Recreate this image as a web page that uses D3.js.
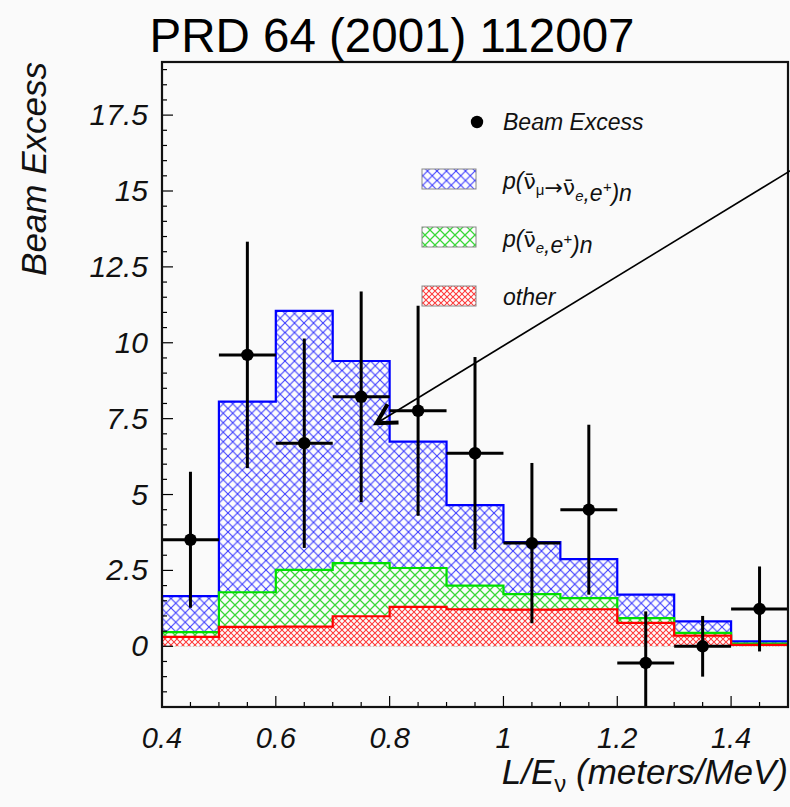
<!DOCTYPE html>
<html>
<head>
<meta charset="utf-8">
<script src="https://cdn.jsdelivr.net/npm/d3@7"></script>
<style>
  html, body { margin: 0; padding: 0; background: #fafafa; }
  svg { display: block; }
  text { font-family: "Liberation Sans", Arial, Helvetica, sans-serif; }
</style>
</head>
<body>
<svg id="chart" width="790" height="807"></svg>
<script>
// ---------------- data ----------------
const binEdges = [0.4, 0.5, 0.6, 0.7, 0.8, 0.9, 1.0, 1.1, 1.2, 1.3, 1.4, 1.5];
// stacked totals (oscillation + nu_e + other)
const oscStackTotal = [1.65, 8.06, 11.05, 9.40, 6.74, 4.65, 3.43, 2.87, 1.70, 0.82, 0.16];
// nu_e + other
const nueStackTotal = [0.47, 1.78, 2.52, 2.74, 2.58, 2.00, 1.72, 1.59, 0.93, 0.44, 0.09];
// other
const otherValues   = [0.31, 0.64, 0.65, 0.99, 1.30, 1.22, 1.21, 1.22, 0.77, 0.35, 0.05];

const pointX   = [0.45, 0.55, 0.65, 0.75, 0.85, 0.95, 1.05, 1.15, 1.25, 1.35, 1.45];
const pointY   = [3.51, 9.60, 6.69, 8.22, 7.76, 6.36, 3.40, 4.50, -0.55, 0.00, 1.23];
const pointErr = [2.24, 3.73, 3.45, 3.47, 3.46, 3.17, 2.64, 2.80, 1.70, 1.00, 1.40];

const xTicks = [0.4, 0.6, 0.8, 1.0, 1.2, 1.4];
const xTickLabels = ["0.4", "0.6", "0.8", "1", "1.2", "1.4"];
const yTicks = [0, 2.5, 5, 7.5, 10, 12.5, 15, 17.5];
const yTickLabels = ["0", "2.5", "5", "7.5", "10", "12.5", "15", "17.5"];

const titleText = "PRD 64 (2001) 112007";
const legendLabels = ["Beam Excess", "osc", "nue", "other"];
// arrow annotation in data units: from (x,y) to tip (x,y)
const arrowFrom = [1.505, 15.68];
const arrowTip  = [0.777, 7.35];

// ---------------- layout ----------------
const svg = d3.select("#chart");
const L = 162, R = 788, T = 62, B = 707;
const x = d3.scaleLinear().domain([0.4, 1.5]).range([L, R]);
const y = d3.scaleLinear().domain([-2, 19.25]).range([B, T]);

// patterns
const defs = svg.append("defs");
function hatch(id, size, color, sw) {
  const p = defs.append("pattern").attr("id", id).attr("patternUnits", "userSpaceOnUse")
    .attr("width", size).attr("height", size);
  p.append("rect").attr("width", size).attr("height", size).attr("fill", "#fdfdfd");
  p.append("path").attr("d", `M0,0L${size},${size}M0,${size}L${size},0`)
    .attr("stroke", color).attr("stroke-width", sw).attr("fill", "none");
}
hatch("hBlue", 9.5, "#3c3cff", 1.1);
hatch("hGreen", 10, "#3ad83a", 1.25);
hatch("hRed", 6, "#ff3a3a", 1.05);

defs.append("clipPath").attr("id", "frameClip").append("rect")
  .attr("x", L).attr("y", T).attr("width", R - L).attr("height", B - T);

const plot = svg.append("g").attr("clip-path", "url(#frameClip)");

function stepPts(vals) {
  const pts = [[x(binEdges[0]), y(0)]];
  vals.forEach((v, i) => {
    pts.push([x(binEdges[i]), y(v)]);
    pts.push([x(binEdges[i + 1]), y(v)]);
  });
  pts.push([x(binEdges[binEdges.length - 1]), y(0)]);
  return pts;
}
const line = d3.line();
function drawHist(vals, fillId, color) {
  const pts = stepPts(vals);
  plot.append("path").attr("d", line(pts) + "Z").attr("fill", `url(#${fillId})`).attr("stroke", "none");
  plot.append("path").attr("d", line(pts.slice(0, pts.length - 1))).attr("fill", "none")
    .attr("stroke", color).attr("stroke-width", 2.2);
}
drawHist(oscStackTotal, "hBlue", "#0000ff");
drawHist(nueStackTotal, "hGreen", "#00e000");
drawHist(otherValues, "hRed", "#ff0000");

// data points
const pts = plot.append("g");
pointX.forEach((px, i) => {
  pts.append("line").attr("x1", x(px - 0.05)).attr("x2", x(px + 0.05))
    .attr("y1", y(pointY[i])).attr("y2", y(pointY[i])).attr("stroke", "#000").attr("stroke-width", 3);
  pts.append("line").attr("x1", x(px)).attr("x2", x(px))
    .attr("y1", y(pointY[i] - pointErr[i])).attr("y2", y(pointY[i] + pointErr[i]))
    .attr("stroke", "#000").attr("stroke-width", 3);
  pts.append("circle").attr("cx", x(px)).attr("cy", y(pointY[i])).attr("r", 6.2).attr("fill", "#000");
});

// ticks (inside frame)
const tk = svg.append("g").attr("stroke", "#000").attr("stroke-width", 1.2);
d3.range(0, 23).map(i => 0.4 + i * 0.05).filter(v => v <= 1.5001).forEach(v => {
  const major = Math.abs(Math.round(v * 5) - v * 5) < 1e-6;
  tk.append("line").attr("x1", x(v)).attr("x2", x(v)).attr("y1", B).attr("y2", B - (major ? 11 : 5));
});
d3.range(-4, 39).map(i => i * 0.5).filter(v => v >= -2 && v <= 19.25).forEach(v => {
  const major = Math.abs(v / 2.5 - Math.round(v / 2.5)) < 1e-6;
  tk.append("line").attr("x1", L).attr("x2", L + (major ? 11 : 5)).attr("y1", y(v)).attr("y2", y(v));
});

// frame
svg.append("rect").attr("x", L).attr("y", T).attr("width", R - L).attr("height", B - T)
  .attr("fill", "none").attr("stroke", "#111").attr("stroke-width", 2.2);

// tick labels
svg.append("g").selectAll("text").data(xTicks).join("text")
  .attr("x", d => x(d)).attr("y", 748).attr("text-anchor", "middle")
  .attr("font-style", "italic").attr("font-size", 29).attr("fill", "#111")
  .text((d, i) => xTickLabels[i]);
svg.append("g").selectAll("text").data(yTicks).join("text")
  .attr("x", 148).attr("y", d => y(d) + 10).attr("text-anchor", "end")
  .attr("font-style", "italic").attr("font-size", 30).attr("fill", "#111")
  .text((d, i) => yTickLabels[i]);

// axis titles
const xt = svg.append("text").attr("x", 788).attr("y", 784).attr("text-anchor", "end")
  .attr("font-style", "italic").attr("font-size", 35).attr("fill", "#111");
xt.append("tspan").text("L/E");
xt.append("tspan").attr("font-size", 24).attr("dy", 8).attr("font-style", "normal").text("ν");
xt.append("tspan").attr("dy", -8).text(" (meters/MeV)");

svg.append("text").attr("transform", "translate(46,62) rotate(-90)").attr("text-anchor", "end")
  .attr("font-style", "italic").attr("font-size", 35).attr("fill", "#111").text("Beam Excess");

// title
svg.append("text").attr("x", 392).attr("y", 52).attr("text-anchor", "middle")
  .attr("font-size", 47.5).attr("fill", "#000").text(titleText);

// legend
const lg = svg.append("g");
const lx = 503;
lg.append("circle").attr("cx", 477).attr("cy", 122).attr("r", 6.2).attr("fill", "#000");
lg.append("text").attr("x", lx).attr("y", 130).attr("font-style", "italic").attr("font-size", 23)
  .attr("fill", "#111").text(legendLabels[0]);
const boxes = [["hBlue", 169], ["hGreen", 227], ["hRed", 286]];
boxes.forEach(([id, by]) => {
  lg.append("rect").attr("x", 422).attr("y", by).attr("width", 54).attr("height", 20)
    .attr("fill", `url(#${id})`).attr("stroke", "#888").attr("stroke-width", 1);
});
function nubar(t, sub, subItalic) {
  t.append("tspan").text("ν̄").attr("font-style", "normal").attr("font-family", "DejaVu Sans").attr("font-size", 22);
  t.append("tspan").attr("font-size", 15).attr("dy", 6).attr("font-style", subItalic ? "italic" : "normal").text(sub);
  t.append("tspan").attr("dy", -6).text("");
}
const t1 = lg.append("text").attr("x", lx).attr("y", 189).attr("font-style", "italic").attr("font-size", 23).attr("fill", "#111");
t1.append("tspan").text("p(");
nubar(t1, "μ", false);
t1.append("tspan").attr("font-style", "normal").attr("font-family", "DejaVu Sans").attr("font-size", 22).text("→");
nubar(t1, "e", true);
t1.append("tspan").text(",e");
t1.append("tspan").attr("font-size", 15).attr("dy", -9).text("+");
t1.append("tspan").attr("dy", 9).text(")n");

const t2 = lg.append("text").attr("x", lx).attr("y", 247).attr("font-style", "italic").attr("font-size", 23).attr("fill", "#111");
t2.append("tspan").text("p(");
nubar(t2, "e", true);
t2.append("tspan").text(",e");
t2.append("tspan").attr("font-size", 15).attr("dy", -9).text("+");
t2.append("tspan").attr("dy", 9).text(")n");

lg.append("text").attr("x", lx).attr("y", 305).attr("font-style", "italic").attr("font-size", 23)
  .attr("fill", "#111").text(legendLabels[3]);

// arrow annotation
const ax0 = x(arrowFrom[0]), ay0 = y(arrowFrom[1]), ax1 = x(arrowTip[0]), ay1 = y(arrowTip[1]);
svg.append("line").attr("x1", ax0).attr("y1", ay0).attr("x2", ax1).attr("y2", ay1)
  .attr("stroke", "#000").attr("stroke-width", 1.6);
const ang = Math.atan2(ay0 - ay1, ax0 - ax1);
const head = [ang - 0.5, ang + 0.52].map(a => [ax1 + 22 * Math.cos(a), ay1 + 22 * Math.sin(a)]);
svg.append("path").attr("d", `M${head[0][0]},${head[0][1]}L${ax1},${ay1}L${head[1][0]},${head[1][1]}`)
  .attr("fill", "none").attr("stroke", "#000").attr("stroke-width", 4).attr("stroke-linejoin", "miter");
</script>
</body>
</html>
